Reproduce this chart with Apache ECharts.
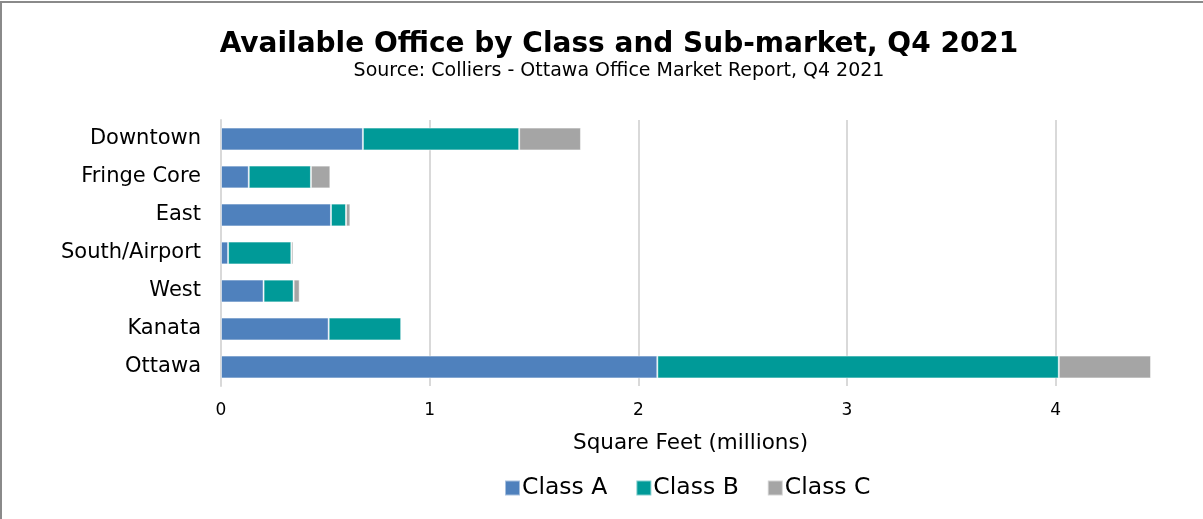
<!DOCTYPE html>
<html>
<head>
<meta charset="utf-8">
<script src="https://cdn.jsdelivr.net/npm/echarts@6/dist/echarts.min.js"></script>
<style>
  html, body { margin: 0; padding: 0; background: #fff; }
  #frame { position: absolute; left: 0; top: 1px; width: 1203px; height: 518px;
           border-top: 2px solid #8a8a8a; border-left: 2px solid #8a8a8a; box-sizing: border-box; }
  #chart { position: absolute; left: 0; top: 0; width: 1203px; height: 519px; }
</style>
</head>
<body>
<div id="frame"></div>
<div id="chart"></div>
<script>
// Sub-markets, top to bottom
const categories = ['Downtown', 'Fringe Core', 'East', 'South/Airport', 'West', 'Kanata', 'Ottawa'];
// Available office space, millions of square feet
const classA = [0.680, 0.133, 0.527, 0.034, 0.204, 0.516, 2.091];
const classB = [0.749, 0.298, 0.072, 0.303, 0.144, 0.348, 1.924];
const classC = [0.296, 0.093, 0.021, 0.010, 0.029, 0.000, 0.442];
const seriesNames = ['Class A', 'Class B', 'Class C'];
const colors = ['#4f81bd', '#009a98', '#a5a5a5'];

const font = 'DejaVu Sans, Verdana, sans-serif';
const chart = echarts.init(document.getElementById('chart'), null, { renderer: 'canvas' });

const mk = (name, data, color) => ({
  name, type: 'bar', stack: 'total', data,
  barCategoryGap: '40%',
  itemStyle: { color, borderColor: 'rgba(255,255,255,0.5)', borderWidth: 1 }
});

// grid lines at the whole millions only; the 4.5 boundary stays blank
const gridColor = '#d9d9d9';

chart.setOption({
  animation: false,
  textStyle: { fontFamily: font },
  title: {
    text: 'Available Office by Class and Sub-market, Q4 2021',
    subtext: 'Source: Colliers - Ottawa Office Market Report, Q4 2021',
    left: 614, top: 26, textAlign: 'center', itemGap: 3,
    textStyle: { fontFamily: font, fontWeight: 'bold', fontSize: 28, color: '#000' },
    subtextStyle: { fontFamily: font, fontSize: 19, color: '#000' }
  },
  legend: {
    data: seriesNames, bottom: 14, left: 499, itemWidth: 15, itemHeight: 15, itemGap: 28,
    icon: 'rect',
    textStyle: { fontFamily: font, fontSize: 23.5, color: '#000', padding: [0, 0, 0, -3] }
  },
  grid: { left: 221, right: 43, top: 120, bottom: 133, containLabel: false },
  xAxis: {
    type: 'value', min: 0, max: 4.5, interval: 1,
    name: 'Square Feet (millions)', nameLocation: 'middle', nameGap: 46,
    nameTextStyle: { fontFamily: font, fontSize: 21.5, color: '#000' },
    axisLine: { show: false }, axisTick: { show: false },
    axisLabel: { fontFamily: font, fontSize: 17, color: '#000', margin: 16,
                 formatter: v => (Number.isInteger(v) ? String(v) : '') },
    splitLine: { show: true, lineStyle: {
      color: [gridColor, gridColor, gridColor, gridColor, gridColor, 'rgba(0,0,0,0)'], width: 2 } }
  },
  yAxis: {
    type: 'category', data: categories, inverse: true,
    axisLine: { show: true, lineStyle: { color: gridColor, width: 2 } },
    axisTick: { show: false },
    axisLabel: { fontFamily: font, fontSize: 21, color: '#000', margin: 20 }
  },
  series: [
    mk(seriesNames[0], classA, colors[0]),
    mk(seriesNames[1], classB, colors[1]),
    mk(seriesNames[2], classC, colors[2])
  ]
});
</script>
</body>
</html>
